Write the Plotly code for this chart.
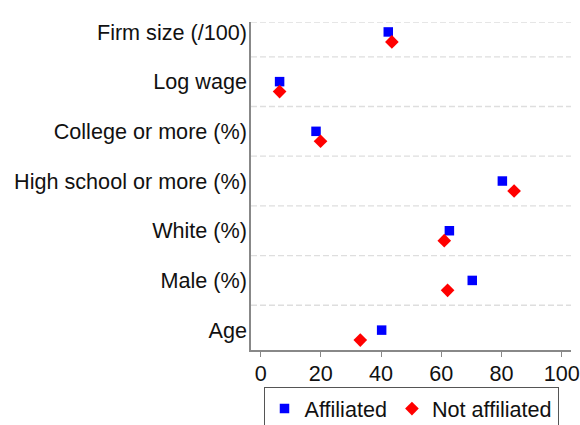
import plotly.graph_objects as go

categories = ["Age", "Male (%)", "White (%)", "High school or more (%)",
              "College or more (%)", "Log wage", "Firm size (/100)"]
affiliated = [40.2, 70.3, 62.7, 80.3, 18.4, 6.3, 42.4]
not_affiliated = [33.1, 62.1, 61.0, 84.2, 19.9, 6.3, 43.6]
x_ticks = [0, 20, 40, 60, 80, 100]

ypos = list(range(1, len(categories) + 1))
offset = 0.2

FONT = "Liberation Sans, Arial, sans-serif"
FS = 21.6

fig = go.Figure()
fig.add_trace(go.Scatter(
    x=affiliated, y=ypos, mode="markers", name="Affiliated",
    marker=dict(symbol="square", size=9.5, color="#0000ff"),
))
fig.add_trace(go.Scatter(
    x=not_affiliated, y=[y - offset for y in ypos], mode="markers", name="Not affiliated",
    marker=dict(symbol="diamond", size=10.5, color="#ff0000"),
))

# dashed separators between categories
grid_vals = [y + 0.5 for y in ypos[:-1]] + [7.2]
for g in grid_vals:
    fig.add_shape(type="line", xref="paper", yref="y", x0=0, x1=1, y0=g, y1=g,
                  line=dict(color="#dedede", width=1.3, dash="6px,3px"), layer="below")

fig.update_layout(
    width=580, height=425,
    margin=dict(l=251, r=9, t=22, b=75, autoexpand=False),
    plot_bgcolor="white", paper_bgcolor="white",
    font=dict(family=FONT, size=FS, color="#111111"),
    showlegend=True,
    legend=dict(orientation="h", x=0.5, xanchor="center", y=-0.113, yanchor="top",
                bordercolor="#555555", borderwidth=1, bgcolor="white",
                font=dict(size=FS), itemwidth=30, tracegroupgap=0),
    xaxis=dict(range=[-3.2, 103.1], tickvals=x_ticks, ticks="outside", ticklen=5,
               tickcolor="#888888", showline=True, linecolor="#888888", linewidth=1.5,
               showgrid=False, zeroline=False, tickfont=dict(size=FS), automargin=False,
               ticklabelstandoff=-2),
    yaxis=dict(range=[0.6, 7.2], tickvals=ypos, ticktext=categories, ticks="",
               showline=True, linecolor="#888888", linewidth=1.5, showgrid=False,
               zeroline=False, tickfont=dict(size=FS), ticklabelstandoff=-2, automargin=False),
)

fig.write_html(
    "out.html",
    config={"displayModeBar": False},
    post_script="document.body.style.margin='0';document.body.style.overflow='hidden';",
)
